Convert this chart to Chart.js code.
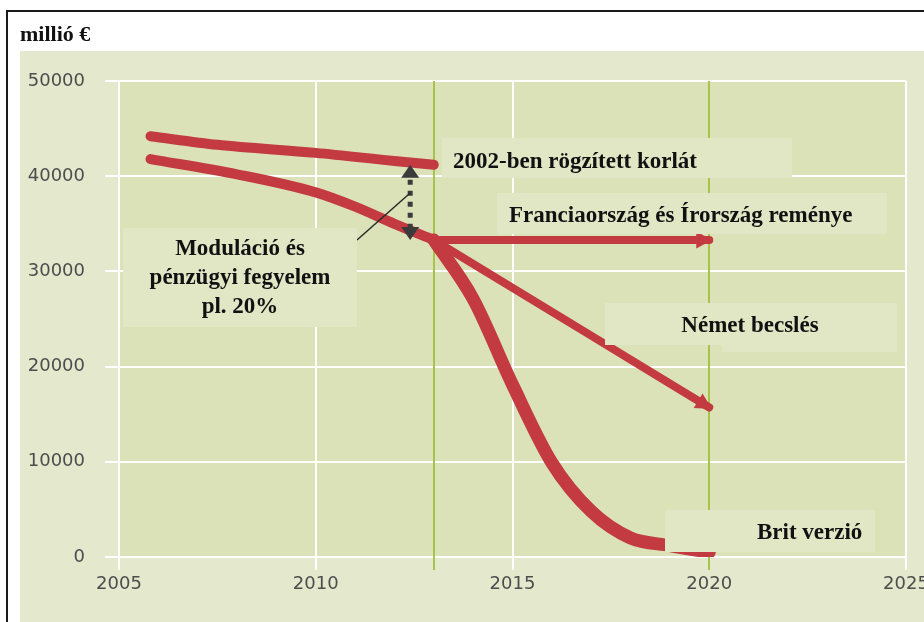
<!DOCTYPE html>
<html><head><meta charset="utf-8">
<script src="https://cdn.jsdelivr.net/npm/chart.js@4.4.1/dist/chart.umd.min.js"></script>
<style>html,body{margin:0;padding:0;background:#fff;overflow:hidden}canvas{display:block}</style>
</head><body>
<canvas id="c" width="924" height="622"></canvas>
<script>
// ---- data ----
const unitTitle = 'millió €';
const xTicks = [2005, 2010, 2015, 2020, 2025];
const yTicks = [0, 10000, 20000, 30000, 40000, 50000];
const markerYears = [2013, 2020];

const capYears   = [2005.8, 2007.5, 2010, 2012, 2013];
const capValues  = [44200, 43300, 42450, 41600, 41200];

const baseYears  = [2005.8, 2008, 2010, 2011, 2012, 2013];
const baseValues = [41800, 40200, 38300, 36800, 35000, 33300];

const franceYears  = [2013, 2020];
const franceValues = [33300, 33300];

const germanYears  = [2013, 2020];
const germanValues = [33300, 15700];

const britYears  = [2013, 2014, 2015, 2016, 2017, 2018, 2019, 2020];
const britValues = [33300, 27100, 18100, 9900, 4800, 2000, 1200, 500];

const gapYear = 2012.4; // position of the dotted "modulation" arrow

const noteCap     = '2002-ben rögzített korlát';
const noteFrance  = 'Franciaország és Írország reménye';
const noteModul   = ['Moduláció és', 'pénzügyi fegyelem', 'pl. 20%'];
const noteGerman  = 'Német becslés';
const noteBrit    = 'Brit verzió';

// ---- styles / layout ----
const RED = '#c33b41';
const GREEN = '#a8c34b';
const INNER = '#dbe2b8';
const OUTER = '#e4e8cd';
const BOX = '#e1e6c5';
const NOTE_FONT = 'bold 23px "Liberation Serif", "Times New Roman", serif';

const boxes = [
  [442, 138, 350, 40],
  [497, 193, 390, 41],
  [123, 228, 234, 99],
  [605, 303, 292, 42],
  [722, 340, 175, 12],
  [665, 510, 210, 42]
];

function series(xs, ys) { return xs.map((x, i) => ({ x: x, y: ys[i] })); }
function ds(xs, ys, w, arrow) {
  return { data: series(xs, ys), borderColor: RED, borderWidth: w, pointRadius: 0, fill: false,
           cubicInterpolationMode: 'monotone', borderCapStyle: 'round', borderJoinStyle: 'round', arrow: !!arrow };
}

function arrowHead(ctx, x1, y1, x2, y2, len, half, ext, color) {
  const a = Math.atan2(y2 - y1, x2 - x1);
  const c = Math.cos(a), s = Math.sin(a);
  const tx = x2 + c * ext, ty = y2 + s * ext;
  const bx = tx - c * len, by = ty - s * len;
  ctx.fillStyle = color;
  ctx.beginPath();
  ctx.moveTo(tx, ty);
  ctx.lineTo(bx - s * half, by + c * half);
  ctx.lineTo(bx + s * half, by - c * half);
  ctx.closePath();
  ctx.fill();
}

const deco = {
  id: 'deco',
  beforeDraw(chart) {
    const ctx = chart.ctx, a = chart.chartArea;
    ctx.save();
    ctx.fillStyle = '#fff'; ctx.fillRect(0, 0, chart.width, chart.height);
    ctx.fillStyle = OUTER; ctx.fillRect(20, 51, chart.width - 20, chart.height - 51);
    ctx.fillStyle = INNER; ctx.fillRect(a.left, a.top, a.right - a.left, a.bottom - a.top);
    ctx.strokeStyle = '#1a1a1a'; ctx.lineWidth = 2;
    ctx.beginPath(); ctx.moveTo(7, chart.height); ctx.lineTo(7, 11); ctx.lineTo(chart.width, 11); ctx.stroke();
    ctx.fillStyle = '#111'; ctx.font = 'bold 22px "Liberation Serif", serif';
    ctx.textAlign = 'left'; ctx.textBaseline = 'alphabetic';
    ctx.fillText(unitTitle, 20, 41);
    ctx.restore();
  },
  beforeDatasetsDraw(chart) {
    const ctx = chart.ctx, xs = chart.scales.x, a = chart.chartArea;
    ctx.save();
    ctx.strokeStyle = GREEN; ctx.lineWidth = 2;
    markerYears.forEach(v => {
      const x = Math.round(xs.getPixelForValue(v));
      ctx.beginPath(); ctx.moveTo(x, a.top); ctx.lineTo(x, a.bottom + 13); ctx.stroke();
    });
    ctx.restore();
  },
  afterDatasetsDraw(chart) {
    const ctx = chart.ctx, xs = chart.scales.x, ys = chart.scales.y;
    ctx.save();
    chart.data.datasets.forEach((d, i) => {
      if (!d.arrow) return;
      const pts = chart.getDatasetMeta(i).data;
      const p1 = pts[pts.length - 2], p2 = pts[pts.length - 1];
      arrowHead(ctx, p1.x, p1.y, p2.x, p2.y, 16, 8.5, 3, RED);
    });
    const gx = xs.getPixelForValue(gapYear);
    const yTop = ys.getPixelForValue(capValues[capValues.length - 1]);
    const yBot = ys.getPixelForValue(baseValues[baseValues.length - 1]);
    const DARK = '#3b3b3b';
    arrowHead(ctx, gx, yTop + 20, gx, yTop, 13, 9, 0, DARK);
    arrowHead(ctx, gx, yBot - 20, gx, yBot, 13, 9, 0, DARK);
    ctx.strokeStyle = DARK; ctx.lineWidth = 5; ctx.setLineDash([5, 6]);
    ctx.beginPath(); ctx.moveTo(gx, yTop + 15); ctx.lineTo(gx, yBot - 12); ctx.stroke();
    ctx.setLineDash([]);
    ctx.strokeStyle = '#2a2a2a'; ctx.lineWidth = 1.5;
    ctx.beginPath(); ctx.moveTo(boxes[2][0] + boxes[2][2], 240); ctx.lineTo(gx, 193); ctx.stroke();
    ctx.fillStyle = BOX;
    boxes.forEach(b => ctx.fillRect(b[0], b[1], b[2], b[3]));
    ctx.fillStyle = '#111'; ctx.font = NOTE_FONT; ctx.textBaseline = 'alphabetic';
    ctx.textAlign = 'left';
    ctx.fillText(noteCap, 453, 168);
    ctx.fillText(noteFrance, 509, 222);
    ctx.fillText(noteBrit, 757, 539);
    ctx.textAlign = 'center';
    noteModul.forEach((t, i) => ctx.fillText(t, 240, 255 + i * 29));
    ctx.fillText(noteGerman, 750, 332);
    ctx.restore();
  }
};

const tickFont = { family: '"DejaVu Sans", sans-serif', size: 18 };

new Chart(document.getElementById('c'), {
  type: 'line',
  data: {
    datasets: [
      ds(capYears, capValues, 10),
      ds(baseYears, baseValues, 10),
      ds(franceYears, franceValues, 8, true),
      ds(germanYears, germanValues, 8, true),
      ds(britYears, britValues, 13)
    ]
  },
  options: {
    responsive: false, animation: false, devicePixelRatio: 1, events: [],
    layout: { padding: { left: 0, top: 81, right: 18, bottom: 0 } },
    plugins: { legend: { display: false }, tooltip: { enabled: false } },
    scales: {
      x: {
        type: 'linear', min: xTicks[0], max: xTicks[xTicks.length - 1],
        afterBuildTicks: s => { s.ticks = xTicks.map(v => ({ value: v })); },
        afterFit: s => { s.height = 65; s.paddingLeft = 0; s.paddingRight = 0; },
        ticks: { font: tickFont, color: '#4d4d4d', padding: 4, maxRotation: 0, autoSkip: false, callback: v => String(v) },
        grid: { color: '#ffffff', lineWidth: 2, tickLength: 13, tickColor: '#ffffff' },
        border: { display: true, color: '#ffffff', width: 2 }
      },
      y: {
        type: 'linear', min: yTicks[0], max: yTicks[yTicks.length - 1],
        afterBuildTicks: s => { s.ticks = yTicks.map(v => ({ value: v })); },
        afterFit: s => { s.width = 119; s.paddingTop = 0; s.paddingBottom = 0; },
        ticks: { font: tickFont, color: '#4d4d4d', padding: 20, autoSkip: false, callback: v => String(v) },
        grid: { color: '#ffffff', lineWidth: 2, tickLength: 14, tickColor: '#ffffff' },
        border: { display: true, color: '#ffffff', width: 2 }
      }
    }
  },
  plugins: [deco]
});
</script>
</body></html>
